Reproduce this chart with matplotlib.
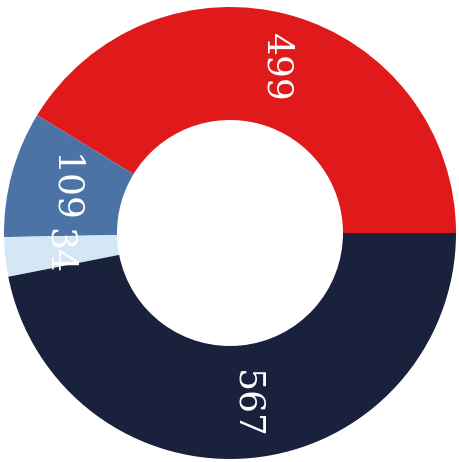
import matplotlib
matplotlib.use("Agg")
import numpy as np
import matplotlib.pyplot as plt

values = [499, 109, 34, 567]
labels = ["499", "109", "34", "567"]
colors = ["#E0191B", "#4B73A6", "#D4E7F4", "#19213D"]

fig = plt.figure(figsize=(4.60, 4.62), dpi=100)
ax = fig.add_axes([0, 0, 1, 1])
ax.axis("off")

wedges, _ = ax.pie(
    values,
    colors=colors,
    startangle=0,
    counterclock=True,
    radius=1.0,
    wedgeprops=dict(width=0.5, linewidth=0),
)

# value labels placed at the middle of each ring segment
for w, lab in zip(wedges, labels):
    mid = np.deg2rad((w.theta1 + w.theta2) / 2)
    ax.text(0.76 * np.cos(mid), 0.76 * np.sin(mid), lab,
            rotation=270, rotation_mode="anchor",
            ha="center", va="center", color="white",
            fontsize=26, fontfamily="DejaVu Serif")

scale = 226.0
ax.set_xlim(-230 / scale, 230 / scale)
ax.set_ylim(-229 / scale, 233 / scale)
ax.set_aspect("auto")

fig.savefig("out.png", dpi=100, facecolor="white")
